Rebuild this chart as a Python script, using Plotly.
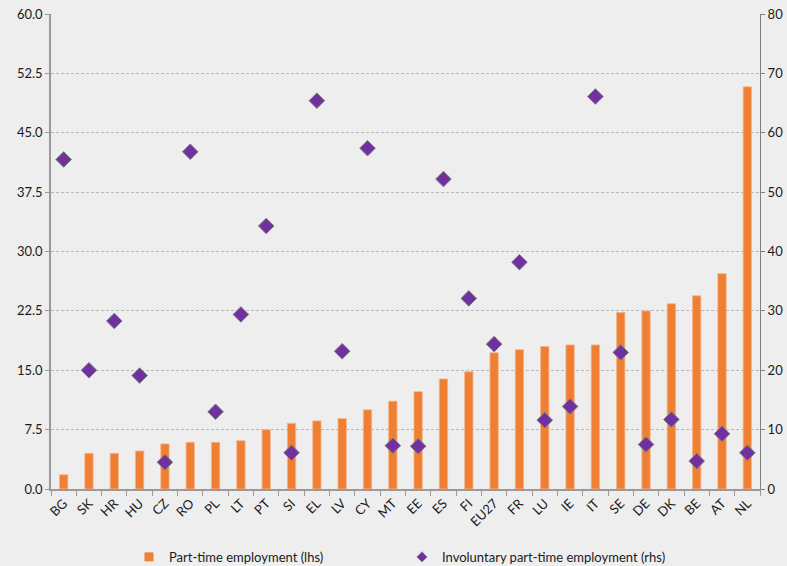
import plotly.graph_objects as go

countries = ["BG", "SK", "HR", "HU", "CZ", "RO", "PL", "LT", "PT", "SI", "EL", "LV", "CY", "MT",
             "EE", "ES", "FI", "EU27", "FR", "LU", "IE", "IT", "SE", "DE", "DK", "BE", "AT", "NL"]
part_time = [1.8, 4.5, 4.5, 4.8, 5.7, 5.9, 5.9, 6.1, 7.5, 8.3, 8.6, 8.9, 10.0, 11.1,
             12.3, 13.9, 14.8, 17.2, 17.6, 18.0, 18.2, 18.2, 22.3, 22.5, 23.4, 24.4, 27.2, 50.8]
involuntary = [55.5, 20.0, 28.3, 19.1, 4.5, 56.8, 13.0, 29.4, 44.3, 6.1, 65.4, 23.2, 57.4, 7.3,
               7.2, 52.2, 32.1, 24.4, 38.2, 11.6, 13.9, 66.1, 23.0, 7.5, 11.7, 4.7, 9.3, 6.1]

left_ticks = [0, 7.5, 15, 22.5, 30, 37.5, 45, 52.5, 60]
right_ticks = [0, 10, 20, 30, 40, 50, 60, 70, 80]

BAR_NAME = "Part-time employment (lhs)"
DOT_NAME = "Involuntary part-time employment (rhs)"
FONT = "Lato, 'Open Sans', sans-serif"
ORANGE = "#EF7F32"
PURPLE = "#7030A0"
TICKSIZE = 13

fig = go.Figure()
fig.add_trace(go.Bar(
    x=countries, y=part_time, name=BAR_NAME, showlegend=False,
    marker=dict(color=ORANGE, line=dict(color="#F6B58A", width=0.8)),
    width=0.33, yaxis="y",
))
fig.add_trace(go.Scatter(
    x=countries, y=involuntary, name=DOT_NAME, showlegend=False,
    mode="markers", yaxis="y2",
    marker=dict(symbol="diamond", size=12, color=PURPLE,
                line=dict(color="#7F7F7F", width=1)),
))
# legend entries (smaller symbols, as in the reference legend)
fig.add_trace(go.Scatter(
    x=[None], y=[None], name=BAR_NAME, mode="markers",
    marker=dict(symbol="square", size=9, color=ORANGE),
))
fig.add_trace(go.Scatter(
    x=[None], y=[None], name=DOT_NAME, mode="markers", yaxis="y2",
    marker=dict(symbol="diamond", size=8, color=PURPLE, line=dict(color="#7F7F7F", width=0.5)),
))

fig.update_layout(
    width=787, height=566,
    paper_bgcolor="#EEEEEE", plot_bgcolor="#EEEEEE",
    margin=dict(l=51, r=27, t=14, b=77, autoexpand=False),
    font=dict(family=FONT, size=12, color="#1A1A1A"),
    showlegend=True,
    legend=dict(orientation="h", x=0.11, y=-0.143, xanchor="left", yanchor="middle",
                entrywidth=228, entrywidthmode="pixels", itemwidth=30,
                bgcolor="rgba(0,0,0,0)", font=dict(size=13, family=FONT, color="#1A1A1A"),
                itemsizing="trace", traceorder="normal"),
    xaxis=dict(
        type="category", showgrid=False, tickangle=-45,
        showline=True, linecolor="#9A9A9A", linewidth=1.5,
        ticks="outside", tickson="boundaries", ticklen=5, tickcolor="#9A9A9A",
        tickfont=dict(size=TICKSIZE, family=FONT), automargin=False,
        range=[-0.5, len(countries) - 0.5],
    ),
    yaxis=dict(
        range=[0, 60], tickvals=left_ticks, tickformat=".1f",
        showgrid=True, gridcolor="#B8B8B8", griddash="3px,2px", gridwidth=1,
        showline=True, linecolor="#9A9A9A", linewidth=1.5,
        ticks="outside", ticklen=4, tickcolor="#9A9A9A",
        zeroline=False, automargin=False, tickfont=dict(size=TICKSIZE, family=FONT),
    ),
    yaxis2=dict(
        range=[0, 80], tickvals=right_ticks, overlaying="y", side="right",
        showgrid=False, showline=True, linecolor="#7F7F7F", linewidth=1,
        ticks="outside", ticklen=4, tickcolor="#7F7F7F",
        zeroline=False, automargin=False, tickfont=dict(size=TICKSIZE, family=FONT),
    ),
)

fig.write_html("out.html", config={"displayModeBar": False},
               post_script="document.body.style.margin='0';document.body.style.background='#EEEEEE';")
